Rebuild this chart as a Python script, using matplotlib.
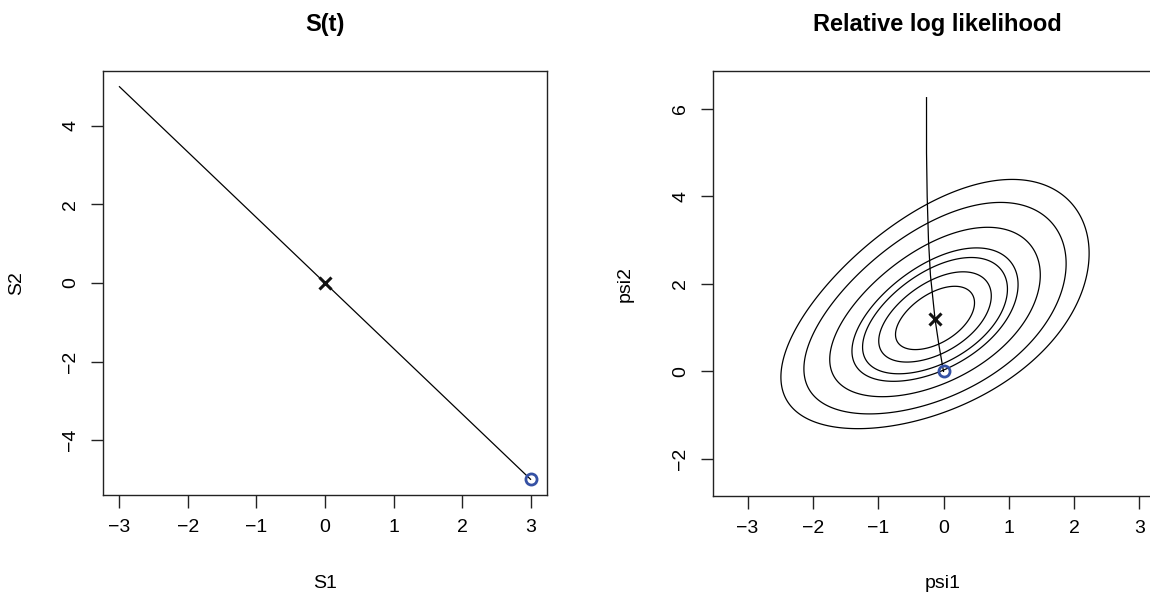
import numpy as np
import matplotlib.pyplot as plt

plt.rcParams['font.family'] = ['Liberation Sans', 'DejaVu Sans']

# left panel: path of S(t)
s1 = [-3, 3]
s2 = [5, -5]
s_mle = (0, 0)
s_start = (3, -5)

# right panel: path in psi space
psi1_path = [-0.26, -0.26, -0.25, -0.23, -0.20, -0.13, -0.07, 0.0]
psi2_path = [6.26, 5.0, 4.0, 3.0, 2.2, 1.2, 0.6, 0.0]
psi_mle = (-0.13, 1.2)
psi_start = (0.0, 0.0)

# relative log likelihood surface
ll_center = (-0.13, 1.2)
ll_sd = (0.515, 0.616)
ll_rho = 0.5
ll_skew = 0.085
ll_levels = [-10.5, -7.6, -4.9, -3.05, -2.32, -1.4, -0.69]

W, H = 1150, 597
fig = plt.figure(figsize=(W / 100, H / 100), dpi=100)

def box(l, r, t, b):
    return [l / W, 1 - b / H, (r - l) / W, (b - t) / H]

def style(ax):
    for sp in ax.spines.values():
        sp.set_linewidth(1.0)
        sp.set_color('#222222')
    ax.tick_params(length=9, width=1, pad=8, labelsize=14, color='#222222')
    for lab in ax.get_yticklabels():
        lab.set_rotation(90)
        lab.set_va('center')

blue = '#3551a4'

# ---- left
ax1 = fig.add_axes(box(103, 547, 71, 495))
ax1.plot(s1, s2, color='black', lw=0.9)
ax1.plot(*s_mle, marker='x', ms=9, mew=2.2, color='#111111')
ax1.plot(*s_start, marker='o', ms=8, mfc='none', mew=2, color=blue)
ax1.set_xlim(-3.24, 3.24)
ax1.set_ylim(-5.4, 5.4)
ax1.set_xticks([-3, -2, -1, 0, 1, 2, 3])
ax1.set_yticks([-4, -2, 0, 2, 4])
ax1.set_xticklabels(['\u22123', '\u22122', '\u22121', '0', '1', '2', '3'])
ax1.set_yticklabels(['\u22124', '\u22122', '0', '2', '4'])
style(ax1)
fig.text(325 / W, 1 - 583 / H, 'S1', fontsize=14, ha='center', va='center')
fig.text(17 / W, 1 - 283 / H, 'S2', fontsize=14, ha='center', va='center', rotation=90)
fig.text(325 / W, 1 - 24 / H, 'S(t)', fontsize=17, fontweight='bold', ha='center', va='center')

# ---- right
ax2 = fig.add_axes(box(713, 1174, 71, 496))
gx = np.linspace(-3.6, 4.4, 400)
gy = np.linspace(-3.0, 7.0, 400)
X, Y = np.meshgrid(gx, gy)
dx = (X - ll_center[0]) / ll_sd[0]
w = np.log1p(ll_skew * (Y - ll_center[1])) / ll_skew / ll_sd[1]
Z = -0.5 * (dx ** 2 - 2 * ll_rho * dx * w + w ** 2) / (1 - ll_rho ** 2)
ax2.contour(X, Y, Z, levels=ll_levels, colors='black', linewidths=0.9, linestyles='solid')
ax2.plot(psi1_path, psi2_path, color='black', lw=0.9)
ax2.plot(*psi_mle, marker='x', ms=9, mew=2.2, color='#111111')
ax2.plot(*psi_start, marker='o', ms=8, mfc='none', mew=2, color=blue)
ax2.set_xlim(-3.53, 3.53)
ax2.set_ylim(-2.85, 6.87)
ax2.set_xticks([-3, -2, -1, 0, 1, 2, 3])
ax2.set_yticks([-2, 0, 2, 4, 6])
ax2.set_xticklabels(['\u22123', '\u22122', '\u22121', '0', '1', '2', '3'])
ax2.set_yticklabels(['\u22122', '0', '2', '4', '6'])
style(ax2)
fig.text(943 / W, 1 - 583 / H, 'psi1', fontsize=14, ha='center', va='center')
fig.text(625 / W, 1 - 284 / H, 'psi2', fontsize=14, ha='center', va='center', rotation=90)
fig.text(937 / W, 1 - 24 / H, 'Relative log likelihood', fontsize=17, fontweight='bold',
         ha='center', va='center')

fig.savefig('out.png', dpi=100)
